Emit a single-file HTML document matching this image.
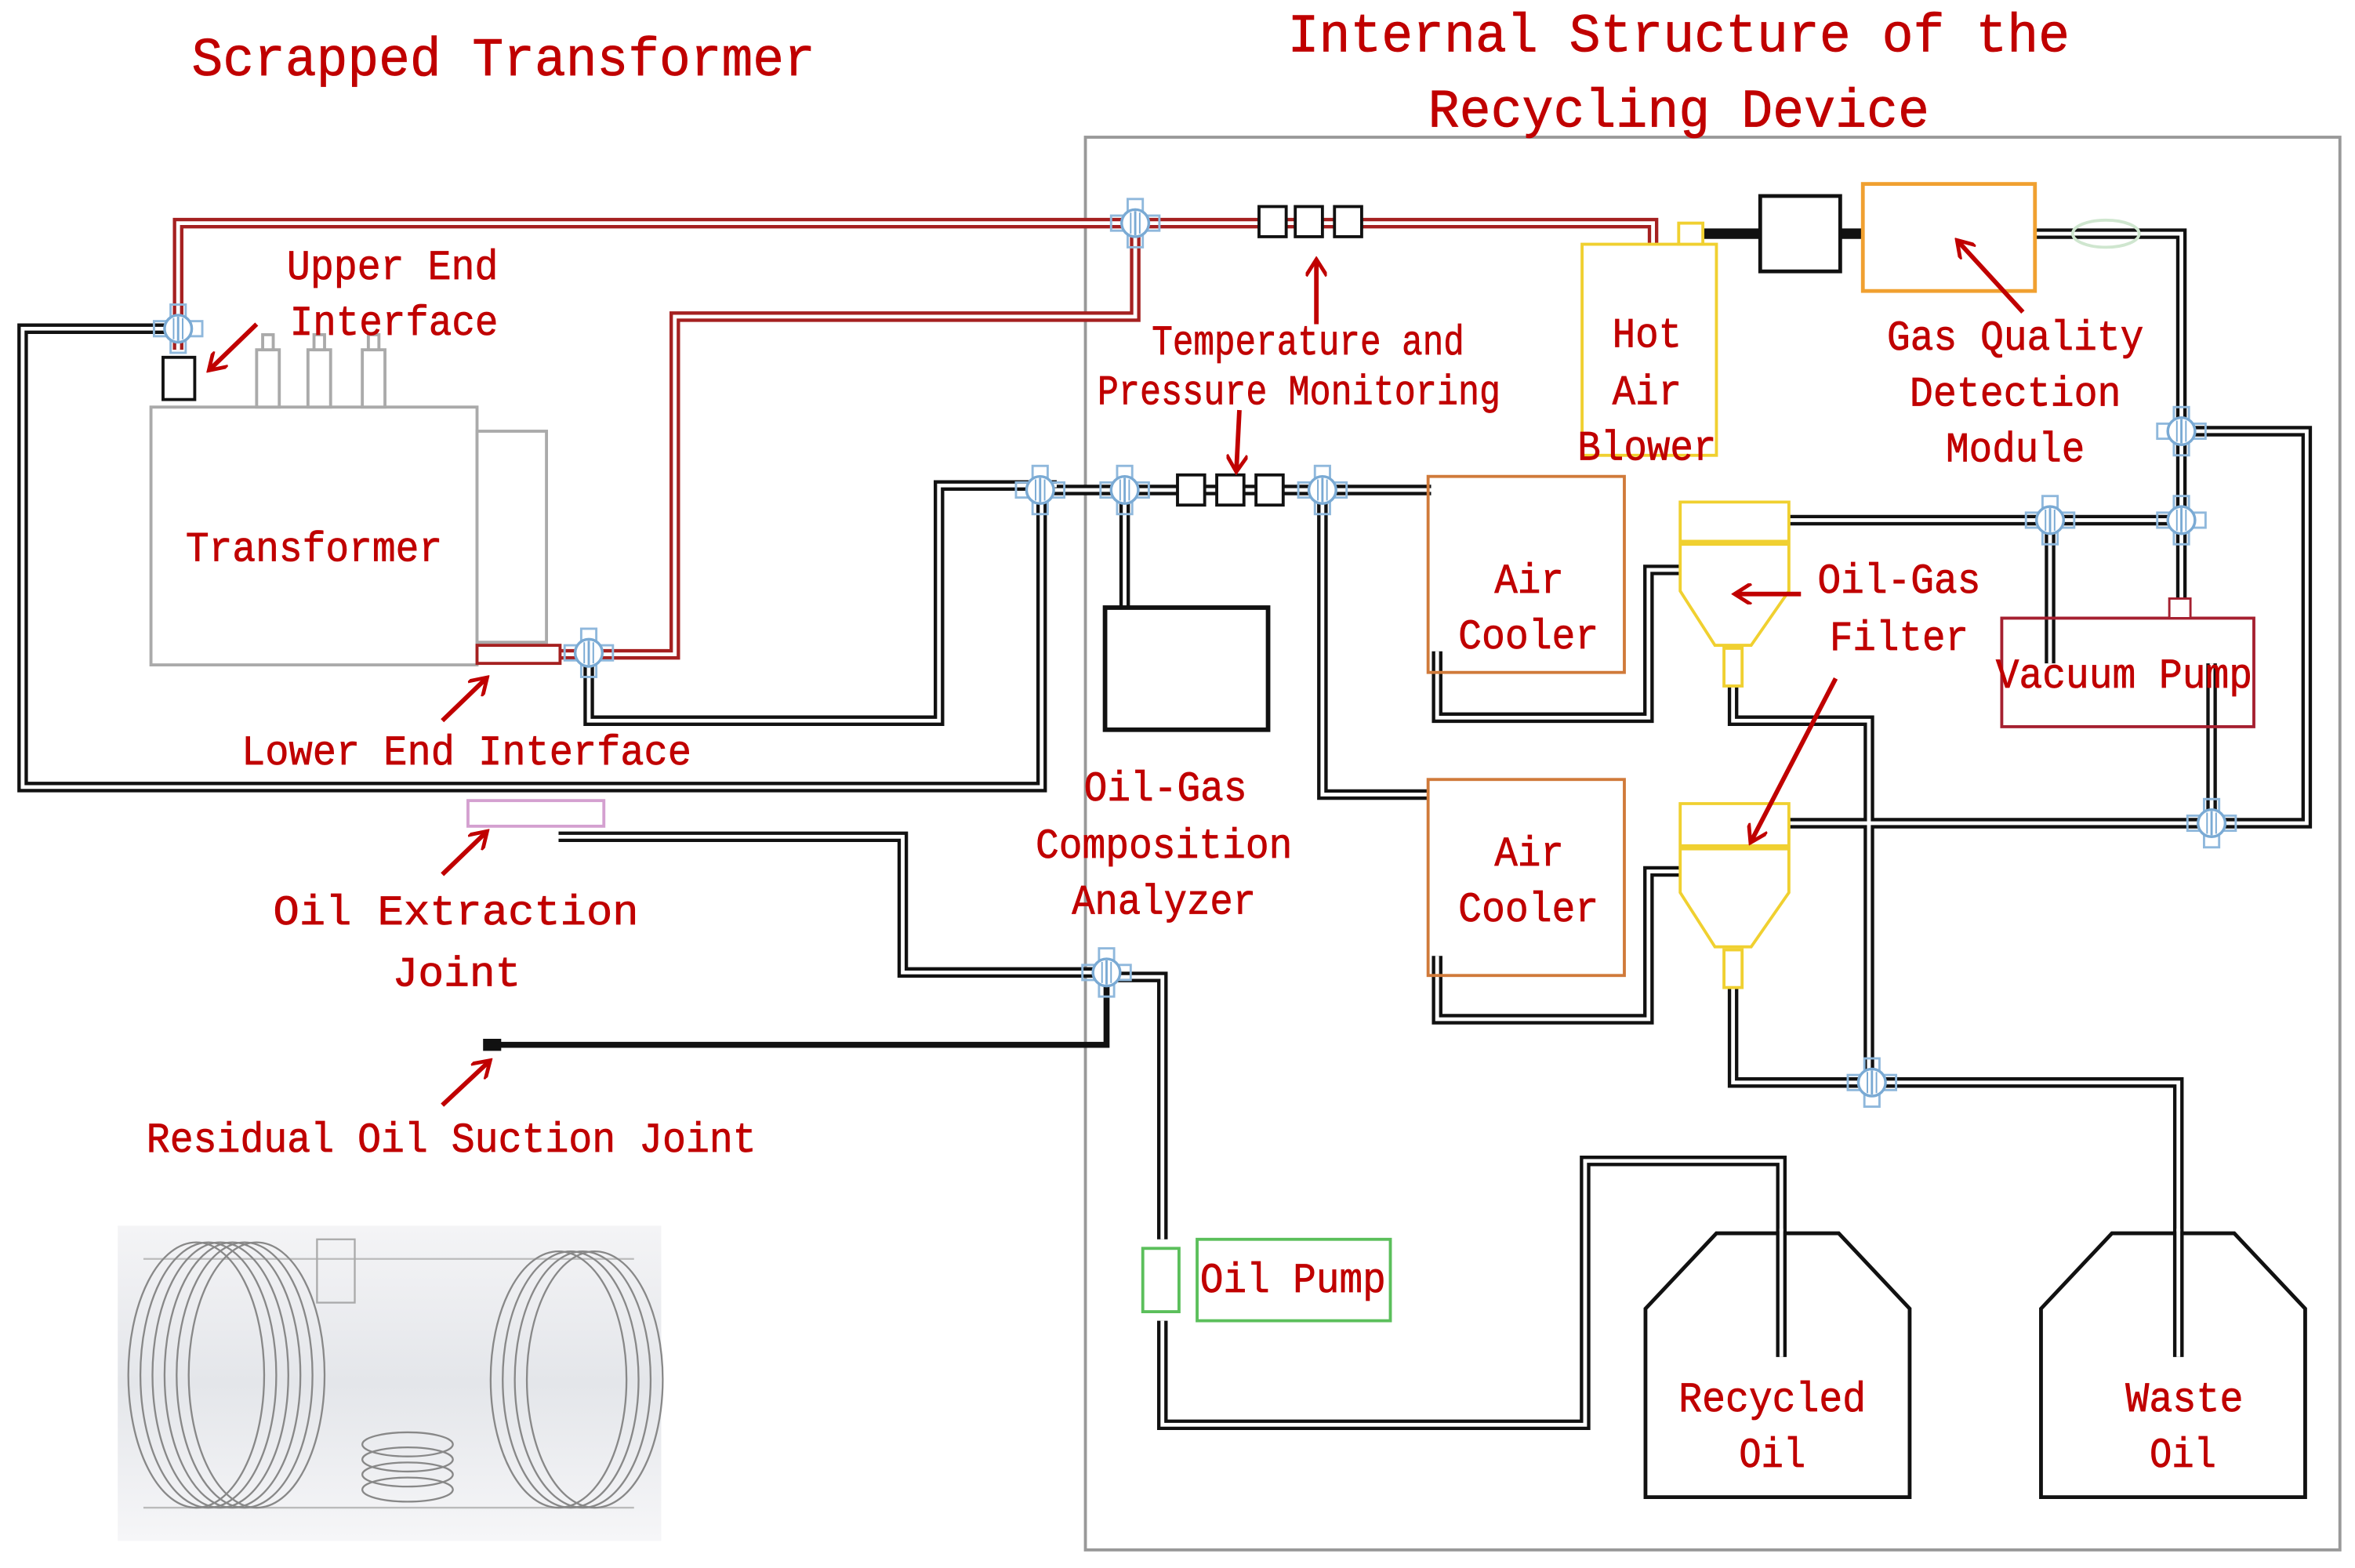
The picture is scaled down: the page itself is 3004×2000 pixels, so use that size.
<!DOCTYPE html>
<html><head><meta charset="utf-8"><style>
html,body{margin:0;padding:0;background:#fff;}
svg{display:block;}
text{font-family:"Liberation Mono",monospace;fill:#c00000;stroke:#c00000;stroke-width:0.4;}
</style></head><body>
<svg width="3004" height="2000" viewBox="0 0 1560 1040" preserveAspectRatio="none" xmlns="http://www.w3.org/2000/svg">
<defs>
<marker id="ah" markerWidth="14" markerHeight="14" refX="11" refY="7" orient="auto" markerUnits="userSpaceOnUse" viewBox="0 0 14 14">
<path d="M1,0 L12,7 L1,14" fill="none" stroke="#c00000" stroke-width="2.5"/>
</marker>
<g id="v">
<rect x="-16" y="-5" width="32" height="10" fill="none" stroke="#8fb8dc" stroke-width="1.5"/>
<rect x="-5" y="-16" width="10" height="32" fill="none" stroke="#8fb8dc" stroke-width="1.5"/>
<circle r="9" fill="#fff" stroke="#7aaad4" stroke-width="1.8"/>
<line x1="0" y1="-8" x2="0" y2="8" stroke="#7aaad4" stroke-width="1.5"/>
<line x1="-3" y1="-7" x2="-3" y2="7" stroke="#7aaad4" stroke-width="1"/>
<line x1="3" y1="-7" x2="3" y2="7" stroke="#7aaad4" stroke-width="1"/>
</g>
<linearGradient id="g3" x1="0" y1="0" x2="0" y2="1"><stop offset="0" stop-color="#f4f4f6"/><stop offset="0.5" stop-color="#e4e6ea"/><stop offset="1" stop-color="#f6f6f8"/></linearGradient>
</defs>

<rect x="719" y="91" width="831" height="937" fill="none" stroke="#999" stroke-width="2"/>

<g fill="none" stroke="#111" stroke-width="7" stroke-linejoin="miter">
<path d="M118,218 H15 V522 H690 V325 H948"/>
<path d="M390,440 V478 H622 V322 H700"/>
<path d="M745,325 V403"/>
<path d="M876,325 V527 H946"/>
<path d="M952,432 V476 H1092 V378 H1113"/>
<path d="M952,634 V676 H1092 V578 H1113"/>
<path d="M1185,345 H1445"/>
<path d="M1185,546 H1465 H1528 V286 H1445"/>
<path d="M1348,155 H1445 V400"/>
<path d="M1358,345 V440"/>
<path d="M1465,440 V546"/>
<path d="M1148,455 V478 H1238 V718"/>
<path d="M1148,655 V718 H1443 V900"/>
<path d="M1120,155 H1166"/>
<path d="M1219,155 H1234"/>
<path d="M370,555 H598 V645 H733"/>
<path d="M733,648 H770 V822"/>
<path d="M770,876 V945 H1050 V770 H1180 V900"/>
</g>
<path d="M330,693 H733 V648" fill="none" stroke="#111" stroke-width="4"/>
<g fill="none" stroke="#fff" stroke-width="2.5">
<path d="M118,218 H15 V522 H690 V325 H948"/>
<path d="M390,440 V478 H622 V322 H700"/>
<path d="M745,325 V403"/>
<path d="M876,325 V527 H946"/>
<path d="M952,432 V476 H1092 V378 H1113"/>
<path d="M952,634 V676 H1092 V578 H1113"/>
<path d="M1185,345 H1445"/>
<path d="M1185,546 H1465 H1528 V286 H1445"/>
<path d="M1348,155 H1445 V400"/>
<path d="M1358,345 V440"/>
<path d="M1465,440 V546"/>
<path d="M1148,455 V478 H1238 V718"/>
<path d="M1148,655 V718 H1443 V900"/>
<path d="M370,555 H598 V645 H733"/>
<path d="M733,648 H770 V822"/>
<path d="M770,876 V945 H1050 V770 H1180 V900"/>
</g>

<g fill="none" stroke="#a52020" stroke-width="7">
<path d="M118,232 V148 H1095 V220"/>
<path d="M370,434 H447 V210 H752 V148"/>
</g>
<g fill="none" stroke="#fff" stroke-width="2.5">
<path d="M118,232 V148 H1095 V220"/>
<path d="M370,434 H447 V210 H752 V148"/>
</g>

<rect x="100" y="270" width="216" height="171" fill="#fff" stroke="#aaa" stroke-width="2"/>
<rect x="316" y="286" width="46" height="140" fill="#fff" stroke="#aaa" stroke-width="2"/>
<g fill="#fff" stroke="#aaa" stroke-width="2">
<rect x="170" y="232" width="15" height="38"/><rect x="204" y="232" width="15" height="38"/><rect x="240" y="232" width="15" height="38"/>
<rect x="174" y="222" width="7" height="10"/><rect x="208" y="222" width="7" height="10"/><rect x="244" y="222" width="7" height="10"/>
</g>
<rect x="108" y="237" width="21" height="28" fill="#fff" stroke="#111" stroke-width="2"/>
<rect x="316" y="428" width="55" height="12" fill="#fff" stroke="#a52020" stroke-width="2"/>
<rect x="310" y="531" width="90" height="17" fill="#fff" stroke="#d4a0d0" stroke-width="2"/>
<rect x="320" y="689" width="12" height="8" fill="#111"/>

<g fill="#fff" stroke="#111" stroke-width="2">
<rect x="834" y="137" width="18" height="20"/><rect x="858" y="137" width="18" height="20"/><rect x="884" y="137" width="18" height="20"/>
<rect x="780" y="315" width="18" height="20"/><rect x="806" y="315" width="18" height="20"/><rect x="832" y="315" width="18" height="20"/>
</g>

<rect x="732" y="403" width="108" height="81" fill="#fff" stroke="#111" stroke-width="3"/>

<rect x="1048" y="162" width="89" height="140" fill="#fff" stroke="#f0d030" stroke-width="2"/>
<rect x="1112" y="148" width="16" height="14" fill="#fff" stroke="#f0d030" stroke-width="2"/>
<rect x="1166" y="130" width="53" height="50" fill="#fff" stroke="#111" stroke-width="2.5"/>
<rect x="1234" y="122" width="114" height="71" fill="#fff" stroke="#f0a030" stroke-width="2.5"/>
<ellipse cx="1395" cy="155" rx="22" ry="9" fill="none" stroke="#cfe6cf" stroke-width="2"/>

<rect x="946" y="316" width="130" height="130" fill="none" stroke="#d07a3a" stroke-width="2"/>
<rect x="946" y="517" width="130" height="130" fill="none" stroke="#d07a3a" stroke-width="2"/>

<g fill="#fff" stroke="#f0d030" stroke-width="2">
<path d="M1113,333 H1185 V392 L1160,428 H1136 L1113,392 Z"/>
<line x1="1113" y1="360" x2="1185" y2="360" stroke-width="4"/>
<rect x="1142" y="430" width="12" height="25"/>
<path d="M1113,533 H1185 V592 L1160,628 H1136 L1113,592 Z"/>
<line x1="1113" y1="562" x2="1185" y2="562" stroke-width="4"/>
<rect x="1142" y="630" width="12" height="25"/>
</g>

<rect x="1326" y="410" width="167" height="72" fill="none" stroke="#a52030" stroke-width="2"/>
<rect x="1437" y="397" width="14" height="13" fill="#fff" stroke="#a52030" stroke-width="1.5"/>

<rect x="793" y="822" width="128" height="54" fill="#fff" stroke="#5bbf5b" stroke-width="2"/>
<rect x="757" y="828" width="24" height="42" fill="#fff" stroke="#5bbf5b" stroke-width="2"/>

<path d="M1090,868 L1137,818 H1218 L1265,868 V993 H1090 Z" fill="none" stroke="#111" stroke-width="2.5"/>
<path d="M1352,868 L1399,818 H1480 L1527,868 V993 H1352 Z" fill="none" stroke="#111" stroke-width="2.5"/>
<g fill="none" stroke="#111" stroke-width="7"><path d="M1180,818 V900"/><path d="M1443,818 V900"/></g>
<g fill="none" stroke="#fff" stroke-width="2.5"><path d="M1180,815 V900"/><path d="M1443,815 V900"/></g>

<use href="#v" x="118" y="218"/>
<use href="#v" x="752" y="148"/>
<use href="#v" x="390" y="433"/>
<use href="#v" x="689" y="325"/>
<use href="#v" x="745" y="325"/>
<use href="#v" x="876" y="325"/>
<use href="#v" x="1445" y="286"/>
<use href="#v" x="1445" y="345"/>
<use href="#v" x="1358" y="345"/>
<use href="#v" x="1465" y="546"/>
<use href="#v" x="1240" y="718"/>
<use href="#v" x="733" y="645"/>

<rect x="78" y="813" width="360" height="209" fill="url(#g3)"/>
<g fill="none" stroke="#888" stroke-width="1.2">
<path d="M95,835 H420 M95,1000 H420" stroke="#bbb"/>
<ellipse cx="130" cy="912" rx="45" ry="88"/><ellipse cx="138" cy="912" rx="45" ry="88"/><ellipse cx="146" cy="912" rx="45" ry="88"/><ellipse cx="154" cy="912" rx="45" ry="88"/><ellipse cx="162" cy="912" rx="45" ry="88"/><ellipse cx="170" cy="912" rx="45" ry="88"/>
<ellipse cx="370" cy="915" rx="45" ry="85"/><ellipse cx="378" cy="915" rx="45" ry="85"/><ellipse cx="386" cy="915" rx="45" ry="85"/><ellipse cx="394" cy="915" rx="45" ry="85"/>
<ellipse cx="270" cy="958" rx="30" ry="8"/><ellipse cx="270" cy="968" rx="30" ry="8"/><ellipse cx="270" cy="978" rx="30" ry="8"/><ellipse cx="270" cy="988" rx="30" ry="8"/>
<rect x="210" y="822" width="25" height="42" stroke="#aaa"/>
</g>

<g stroke="#c00000" stroke-width="3" fill="none" marker-end="url(#ah)">
<line x1="170" y1="215" x2="139" y2="245"/>
<line x1="293" y1="478" x2="322" y2="450"/>
<line x1="293" y1="580" x2="322" y2="552"/>
<line x1="293" y1="733" x2="324" y2="704"/>
<line x1="872" y1="215" x2="872" y2="173"/>
<line x1="821" y1="272" x2="819" y2="312"/>
<line x1="1340" y1="207" x2="1297" y2="160"/>
<line x1="1193" y1="394" x2="1150" y2="394"/>
<line x1="1216" y1="450" x2="1160" y2="558"/>
</g>

<g font-size="36">
<text x="127" y="50" textLength="413" lengthAdjust="spacingAndGlyphs">Scrapped Transformer</text>
<text x="853" y="34" textLength="518" lengthAdjust="spacingAndGlyphs">Internal Structure of the</text>
<text x="946" y="84" textLength="332" lengthAdjust="spacingAndGlyphs">Recycling Device</text>
</g>
<g font-size="28">
<text x="190" y="185" textLength="140" lengthAdjust="spacingAndGlyphs">Upper End</text>
<text x="192" y="222" textLength="138" lengthAdjust="spacingAndGlyphs">Interface</text>
<text x="123" y="372" textLength="170" lengthAdjust="spacingAndGlyphs">Transformer</text>
<text x="160" y="507" textLength="298" lengthAdjust="spacingAndGlyphs">Lower End Interface</text>
<text x="181" y="613" textLength="242" lengthAdjust="spacingAndGlyphs">Oil Extraction</text>
<text x="260" y="654" textLength="85" lengthAdjust="spacingAndGlyphs">Joint</text>
<text x="97" y="764" textLength="404" lengthAdjust="spacingAndGlyphs">Residual Oil Suction Joint</text>
<text x="763" y="235" textLength="207" lengthAdjust="spacingAndGlyphs">Temperature and</text>
<text x="727" y="268" textLength="267" lengthAdjust="spacingAndGlyphs">Pressure Monitoring</text>
<text x="1068" y="230" textLength="46" lengthAdjust="spacingAndGlyphs">Hot</text>
<text x="1068" y="268" textLength="46" lengthAdjust="spacingAndGlyphs">Air</text>
<text x="1045" y="305" textLength="92" lengthAdjust="spacingAndGlyphs">Blower</text>
<text x="1250" y="232" textLength="170" lengthAdjust="spacingAndGlyphs">Gas Quality</text>
<text x="1265" y="269" textLength="140" lengthAdjust="spacingAndGlyphs">Detection</text>
<text x="1289" y="306" textLength="92" lengthAdjust="spacingAndGlyphs">Module</text>
<text x="990" y="393" textLength="46" lengthAdjust="spacingAndGlyphs">Air</text>
<text x="966" y="430" textLength="93" lengthAdjust="spacingAndGlyphs">Cooler</text>
<text x="990" y="574" textLength="46" lengthAdjust="spacingAndGlyphs">Air</text>
<text x="966" y="611" textLength="93" lengthAdjust="spacingAndGlyphs">Cooler</text>
<text x="1204" y="393" textLength="108" lengthAdjust="spacingAndGlyphs">Oil-Gas</text>
<text x="1212" y="431" textLength="92" lengthAdjust="spacingAndGlyphs">Filter</text>
<text x="1322" y="456" textLength="170" lengthAdjust="spacingAndGlyphs">Vacuum Pump</text>
<text x="718" y="531" textLength="108" lengthAdjust="spacingAndGlyphs">Oil-Gas</text>
<text x="686" y="569" textLength="170" lengthAdjust="spacingAndGlyphs">Composition</text>
<text x="710" y="606" textLength="122" lengthAdjust="spacingAndGlyphs">Analyzer</text>
<text x="795" y="857" textLength="123" lengthAdjust="spacingAndGlyphs">Oil Pump</text>
<text x="1112" y="936" textLength="124" lengthAdjust="spacingAndGlyphs">Recycled</text>
<text x="1152" y="973" textLength="44" lengthAdjust="spacingAndGlyphs">Oil</text>
<text x="1408" y="936" textLength="78" lengthAdjust="spacingAndGlyphs">Waste</text>
<text x="1424" y="973" textLength="44" lengthAdjust="spacingAndGlyphs">Oil</text>
</g>
</svg>
</body></html>
